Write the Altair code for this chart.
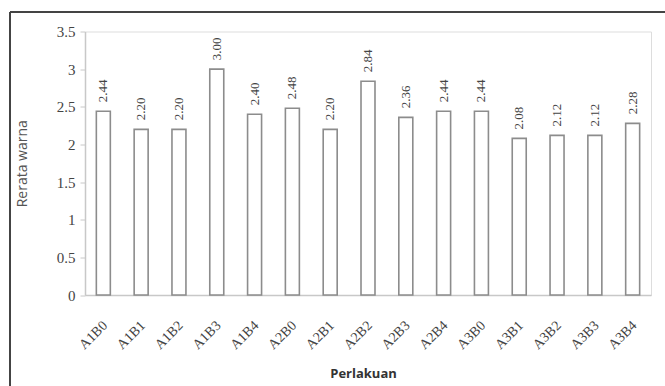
import altair as alt
import pandas as pd

# Treatment combinations and their mean colour scores
perlakuan = ["A1B0", "A1B1", "A1B2", "A1B3", "A1B4",
             "A2B0", "A2B1", "A2B2", "A2B3", "A2B4",
             "A3B0", "A3B1", "A3B2", "A3B3", "A3B4"]
rerata = [2.44, 2.20, 2.20, 3.00, 2.40,
          2.48, 2.20, 2.84, 2.36, 2.44,
          2.44, 2.08, 2.12, 2.12, 2.28]
y_ticks = [0, 0.5, 1, 1.5, 2, 2.5, 3, 3.5]

df = pd.DataFrame({"Perlakuan": perlakuan, "Rerata": rerata})

W, H = 566, 263.5
SERIF = "Liberation Serif"
SANS = "Open Sans"

x_enc = alt.X(
    "Perlakuan:N",
    sort=perlakuan,
    scale=alt.Scale(paddingInner=0.63, paddingOuter=0.3),
    axis=alt.Axis(
        title="Perlakuan",
        titleFont=SANS, titleFontSize=13, titleFontWeight="bold",
        titleColor="#333333", titleX=W / 2 - 5, titleY=78,
        titleAnchor="middle", titleAlign="center", titleBaseline="middle",
        labelAngle=-45, labelAlign="right", labelBaseline="middle",
        labelFont=SERIF, labelFontSize=14, labelColor="#444444",
        labelPadding=28, labelOffset=2,
        ticks=False, domainColor="#c8c8c8", domainWidth=1.5,
    ),
)

y_enc = alt.Y(
    "Rerata:Q",
    scale=alt.Scale(domain=[0, 3.5], nice=False),
    axis=alt.Axis(
        title="Rerata warna",
        titleFont=SANS, titleFontSize=14, titleFontWeight="normal",
        titleColor="#555555", titleAngle=-90, titleX=-63, titleY=H / 2,
        titleAlign="center", titleBaseline="middle",
        values=y_ticks, tickCount=8, format="~g",
        labelOverlap=False, labelFlush=False,
        labelFont=SERIF, labelFontSize=15, labelColor="#444444",
        labelPadding=5, tickSize=5, tickColor="#c8c8c8",
        domainColor="#c8c8c8", domainWidth=1.5, grid=False,
    ),
)

base = alt.Chart(df).encode(x=x_enc, y=y_enc)

bars = base.mark_bar(fill="white", stroke="#8c8c8c", strokeWidth=1.6)

labels = base.mark_text(
    angle=270, align="left", baseline="middle", dx=9,
    font=SERIF, fontSize=13, color="#444444",
).encode(text=alt.Text("Rerata:Q", format=".2f"))

# Outer frame (top and left edges)
frame_top = alt.Chart().mark_rule(color="#444444", strokeWidth=2).encode(
    x=alt.value(-75), x2=alt.value(W + 20), y=alt.value(-19.5)
)
frame_left = alt.Chart().mark_rule(color="#444444", strokeWidth=2).encode(
    x=alt.value(-75), y=alt.value(-19.5), y2=alt.value(H + 100)
)

chart = (
    alt.layer(bars, labels, frame_top, frame_left)
    .properties(
        width=W, height=H,
        autosize=alt.AutoSizeParams(type="none"),
        padding={"left": 85, "top": 31.5, "right": 14, "bottom": 91},
    )
    .configure_view(stroke=None)
    .configure(background="white")
)

chart.save("out.html", embed_options={"renderer": "svg", "actions": False})
